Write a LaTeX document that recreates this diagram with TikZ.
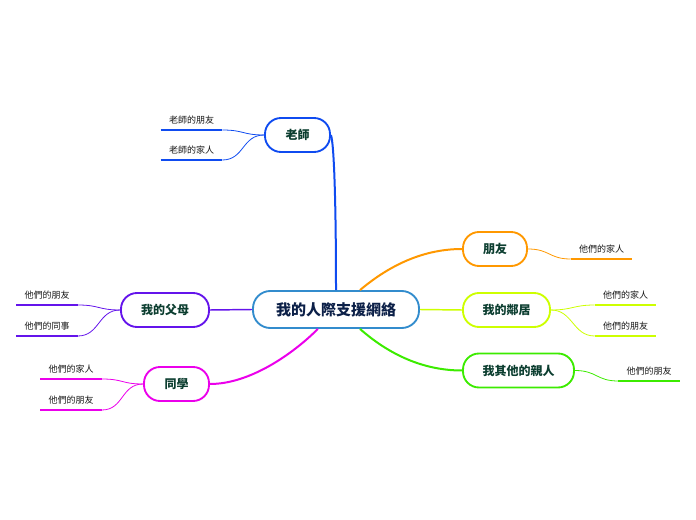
\documentclass[tikz,border=0pt]{standalone}
\usepackage{fontspec}
\setmainfont{Noto Sans CJK TC}
\definecolor{clrhub}{RGB}{50,140,205}
\definecolor{clrteacher}{RGB}{15,75,240}
\definecolor{clrfriend}{RGB}{255,152,0}
\definecolor{clrneigh}{RGB}{205,255,0}
\definecolor{clrkin}{RGB}{60,235,0}
\definecolor{clrparent}{RGB}{100,20,235}
\definecolor{clrclass}{RGB}{235,0,235}
\definecolor{hubtext}{RGB}{12,32,72}
\definecolor{topictext}{RGB}{12,62,48}
\definecolor{leaftext}{RGB}{25,25,25}
\begin{document}
\begin{tikzpicture}[x=0.75pt, y=-0.75pt,
    topic/.style={draw=#1, line width=1.4pt, fill=white, rounded corners=12pt, minimum height=25.5pt, inner sep=0pt, text=topictext, font=\bfseries\fontsize{9}{9}\selectfont},
    leaf/.style={anchor=south, minimum width=45.75pt, inner xsep=0pt, inner ysep=4.5pt, text depth=0pt, text=leaftext, font=\fontsize{6.75}{7}\selectfont},
    branch/.style={draw=#1, line width=1.5pt},
    twig/.style={draw=#1, line width=0.6pt},
    uline/.style={draw=#1, line width=2.2pt}]
	\useasboundingbox (0,0) rectangle (696,520) ;
	\node (hub)[draw=clrhub, line width=1.4pt, fill=white, rounded corners=13pt, minimum width=124.5pt, minimum height=27.75pt, inner sep=0pt, text=hubtext, font=\bfseries\fontsize{11.25}{11.25}\selectfont] at (336,309.5) {我的人際支援網絡} ;
	\node (teacher)[topic=clrteacher, minimum width=48.75pt] at (297.5,135) {老師} ;
	\node (friends)[topic=clrfriend, minimum width=48pt] at (495,249) {朋友} ;
	\node (neighbours)[topic=clrneigh, minimum width=65.25pt] at (506.5,310) {我的鄰居} ;
	\node (kin)[topic=clrkin, minimum width=83.25pt] at (518.5,370.5) {我其他的親人} ;
	\node (parents)[topic=clrparent, minimum width=66pt] at (165,310) {我的父母} ;
	\node (classmates)[topic=clrclass, minimum width=48.75pt] at (176.5,384) {同學} ;
	\node (t1)[leaf] at (191.5,130) {老師的朋友} ;
	\node (t2)[leaf] at (191.5,160) {老師的家人} ;
	\node (f1)[leaf] at (601.5,259) {他們的家人} ;
	\node (n1)[leaf] at (625.5,305) {他們的家人} ;
	\node (n2)[leaf] at (625.5,336) {他們的朋友} ;
	\node (k1)[leaf] at (649,381) {他們的朋友} ;
	\node (p1)[leaf] at (47,305) {他們的朋友} ;
	\node (p2)[leaf] at (47,336) {他們的同事} ;
	\node (c1)[leaf] at (71,379) {他們的家人} ;
	\node (c2)[leaf] at (71,410) {他們的朋友} ;
	\draw[branch=clrteacher] (hub.north) .. controls +(0,-90) and +(3,8) .. (teacher.east) ;
	\draw[branch=clrfriend] (hub.39) .. controls +(25,-21) and +(-43,0) .. (friends.west) ;
	\draw[branch=clrneigh, line width=1.1pt] (hub.east) -- (neighbours.west) ;
	\draw[branch=clrkin] (hub.-39) .. controls +(25,22) and +(-43,0) .. (kin.west) ;
	\draw[branch=clrparent, line width=1.1pt] (hub.west) -- (parents.east) ;
	\draw[branch=clrclass] (hub.-133) .. controls +(-25,25) and +(40,0) .. (classmates.east) ;
	\draw[twig=clrteacher] (teacher.west) .. controls +(-22,0) and +(22,0) .. (t1.south east) ;
	\draw[twig=clrteacher] (teacher.west) .. controls +(-22,0) and +(22,0) .. (t2.south east) ;
	\draw[twig=clrfriend] (friends.east) .. controls +(22,0) and +(-22,0) .. (f1.south west) ;
	\draw[twig=clrneigh] (neighbours.east) .. controls +(22,0) and +(-22,0) .. (n1.south west) ;
	\draw[twig=clrneigh] (neighbours.east) .. controls +(22,0) and +(-22,0) .. (n2.south west) ;
	\draw[twig=clrkin] (kin.east) .. controls +(22,0) and +(-22,0) .. (k1.south west) ;
	\draw[twig=clrparent] (parents.west) .. controls +(-22,0) and +(22,0) .. (p1.south east) ;
	\draw[twig=clrparent] (parents.west) .. controls +(-22,0) and +(22,0) .. (p2.south east) ;
	\draw[twig=clrclass] (classmates.west) .. controls +(-22,0) and +(22,0) .. (c1.south east) ;
	\draw[twig=clrclass] (classmates.west) .. controls +(-22,0) and +(22,0) .. (c2.south east) ;
	\foreach \lf/\clr in {t1/clrteacher, t2/clrteacher, f1/clrfriend, n1/clrneigh, n2/clrneigh, k1/clrkin, p1/clrparent, p2/clrparent, c1/clrclass, c2/clrclass}
		\draw[uline=\clr] (\lf.south west) -- (\lf.south east) ;
\end{tikzpicture}
\end{document}
